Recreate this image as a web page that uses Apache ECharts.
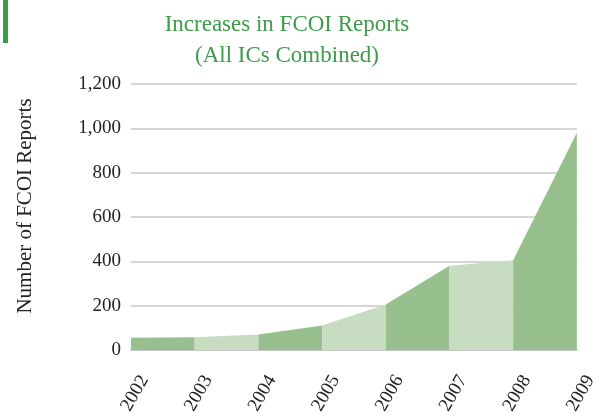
<!DOCTYPE html>
<html>
<head>
<meta charset="utf-8">
<script src="https://cdn.jsdelivr.net/npm/echarts@6/dist/echarts.min.js"></script>
<style>html,body{margin:0;padding:0;background:#fff}#c{width:600px;height:417px}</style>
</head>
<body>
<div id="c"></div>
<script>
const years = ['2002','2003','2004','2005','2006','2007','2008','2009'];
const reports = [55, 57, 70, 110, 205, 380, 405, 980];
const yTicks = [0, 200, 400, 600, 800, 1000, 1200];
const segColors = ['#98c08e', '#c8dcc2'];
const titleText = 'Increases in FCOI Reports\n(All ICs Combined)';
const yName = 'Number of FCOI Reports';

const chart = echarts.init(document.getElementById('c'));
const serif = '"Liberation Serif", "DejaVu Serif", serif';

const series = [];
for (let k = 0; k < years.length - 1; k++) {
  series.push({
    type: 'line',
    data: reports.map((v, i) => (i === k || i === k + 1) ? v : '-'),
    showSymbol: false,
    lineStyle: { width: 0 },
    areaStyle: { color: segColors[k % 2], opacity: 1 },
    silent: true,
    z: 2
  });
}

chart.setOption({
  animation: false,
  backgroundColor: '#fff',
  title: {
    text: titleText,
    left: 282, top: 4, textAlign: 'center',
    textStyle: { fontFamily: serif, fontSize: 23, fontWeight: 'normal', color: '#3d9b4a', lineHeight: 31 }
  },
  graphic: [
    { type: 'rect', shape: { x: 3, y: 0, width: 5, height: 43 }, style: { fill: '#3a9a45' } },
    { type: 'text', x: 25, y: 206, rotation: Math.PI / 2,
      style: { text: yName, font: '21px ' + serif, fill: '#222', align: 'center', verticalAlign: 'middle' } }
  ],
  grid: { left: 131, right: 15, top: 84, bottom: 62 },
  xAxis: {
    type: 'category', data: years, boundaryGap: false,
    axisLine: { lineStyle: { color: '#c8c8c8', width: 2 } },
    axisTick: { show: false },
    axisLabel: {
      rotate: 60, interval: 0, fontFamily: serif, fontSize: 19, color: '#222',
      align: 'right', verticalAlign: 'top', padding: [6, 0, 0, 0], margin: 19
    },
    z: 1
  },
  yAxis: {
    type: 'value', min: yTicks[0], max: yTicks[yTicks.length - 1], interval: yTicks[1] - yTicks[0],
    axisLine: { show: false }, axisTick: { show: false },
    splitLine: { lineStyle: { color: '#c8c8c8', width: 1.5 } },
    axisLabel: {
      fontFamily: serif, fontSize: 19, color: '#222', margin: 10,
      formatter: v => v.toLocaleString('en-US')
    }
  },
  series: series
});
</script>
</body>
</html>
